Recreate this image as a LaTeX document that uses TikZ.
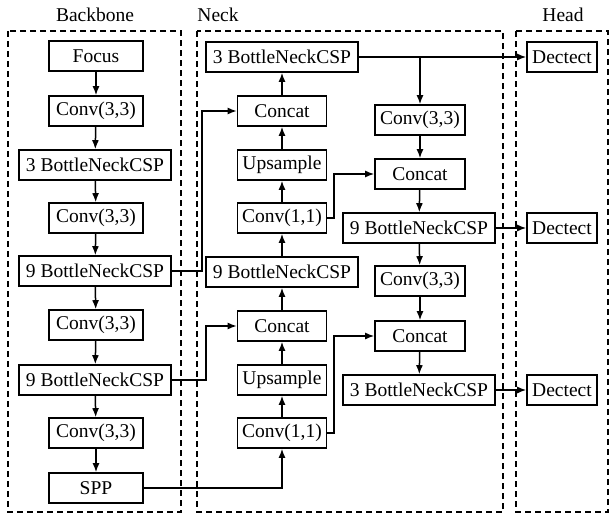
\documentclass[tikz,border=0pt]{standalone}
\usepackage{fontspec}
\setmainfont{Liberation Serif}
\usetikzlibrary{arrows.meta,calc}
\begin{document}
\begin{tikzpicture}[x=1pt,y=-1pt,
  blk/.style={draw,line width=1.6pt,minimum height=30pt,inner sep=0pt,font=\fontsize{19.5}{23}\selectfont},
  sm/.style={blk,minimum width=94pt},
  md/.style={blk,minimum width=89pt},
  wd/.style={blk,minimum width=152pt},
  dt/.style={blk,minimum width=70pt},
  arr/.style={line width=1.5pt,-{Latex[length=9pt,width=7pt]}},
  grp/.style={line width=1.5pt,dash pattern=on 6pt off 4pt},
  lbl/.style={font=\fontsize{19.5}{23}\selectfont}]
\useasboundingbox (0,0) rectangle (611,515);
% groups
\draw[grp] (8,31) rectangle (181,512);
\draw[grp] (197,31) rectangle (503,512);
\draw[grp] (516,31) rectangle (608,512);
\node[lbl] (lb) at (95,15) {Backbone};
\node[lbl] (ln) at (218,15) {Neck};
\node[lbl] (lh) at (563,15) {Head};
% backbone
\node[sm] (b1) at (96,56) {Focus};
\node[sm] (b2) at (96,111) {Conv(3,3)};
\node[wd] (b3) at (95,165) {3 BottleNeckCSP};
\node[sm] (b4) at (96,218) {Conv(3,3)};
\node[wd] (b5) at (95,271) {9 BottleNeckCSP};
\node[sm] (b6) at (96,325) {Conv(3,3)};
\node[wd] (b7) at (95,380) {9 BottleNeckCSP};
\node[sm] (b8) at (96,433) {Conv(3,3)};
\node[sm] (b9) at (96,488) {SPP};
\foreach \a/\b in {b1/b2,b2/b3,b3/b4,b4/b5,b5/b6,b6/b7,b7/b8,b8/b9}
  \draw[arr] (\a) -- (\b);
% neck left
\node[wd] (n1) at (282,57) {3 BottleNeckCSP};
\node[md] (n2) at (282,111) {Concat};
\node[md] (n3) at (282,165) {Upsample};
\node[md] (n4) at (282,218) {Conv(1,1)};
\node[wd] (n5) at (282,272) {9 BottleNeckCSP};
\node[md] (n6) at (282,326) {Concat};
\node[md] (n7) at (282,380) {Upsample};
\node[md] (n8) at (282,433) {Conv(1,1)};
\foreach \a/\b in {n8/n7,n7/n6,n6/n5,n5/n4,n4/n3,n3/n2,n2/n1}
  \draw[arr] (\a) -- (\b);
% neck right
\node[md,minimum width=90pt] (r1) at (420,120) {Conv(3,3)};
\node[md,minimum width=90pt] (r2) at (420,174) {Concat};
\node[wd] (r3) at (419,228) {9 BottleNeckCSP};
\node[md,minimum width=90pt] (r4) at (420,281) {Conv(3,3)};
\node[md,minimum width=90pt] (r5) at (420,336) {Concat};
\node[wd] (r6) at (419,390) {3 BottleNeckCSP};
\foreach \a/\b in {r1/r2,r2/r3,r3/r4,r4/r5,r5/r6}
  \draw[arr] (\a) -- (\b);
% head
\node[dt] (d1) at (562,57) {Dectect};
\node[dt] (d2) at (562,228) {Dectect};
\node[dt] (d3) at (562,390) {Dectect};
% cross connections
\coordinate (k1) at (202,271);
\coordinate (k2) at (206,380);
\coordinate (k3) at (334,218);
\coordinate (k4) at (334,433);
\draw[arr] (b5.east) -- (k1) |- (n2.west);
\draw[arr] (b7.east) -- (k2) |- (n6.west);
\draw[arr] (b9.east) -| (n8.south);
\draw[arr] (n4.east) -- (k3) |- (r2.west);
\draw[arr] (n8.east) -- (k4) |- (r5.west);
\draw[arr] (n1.east) -- (d1.west);
\draw[arr] (r1.north |- n1.east) -- (r1.north);
\draw[arr] (r3.east) -- (d2.west);
\draw[arr] (r6.east) -- (d3.west);
\end{tikzpicture}
\end{document}
